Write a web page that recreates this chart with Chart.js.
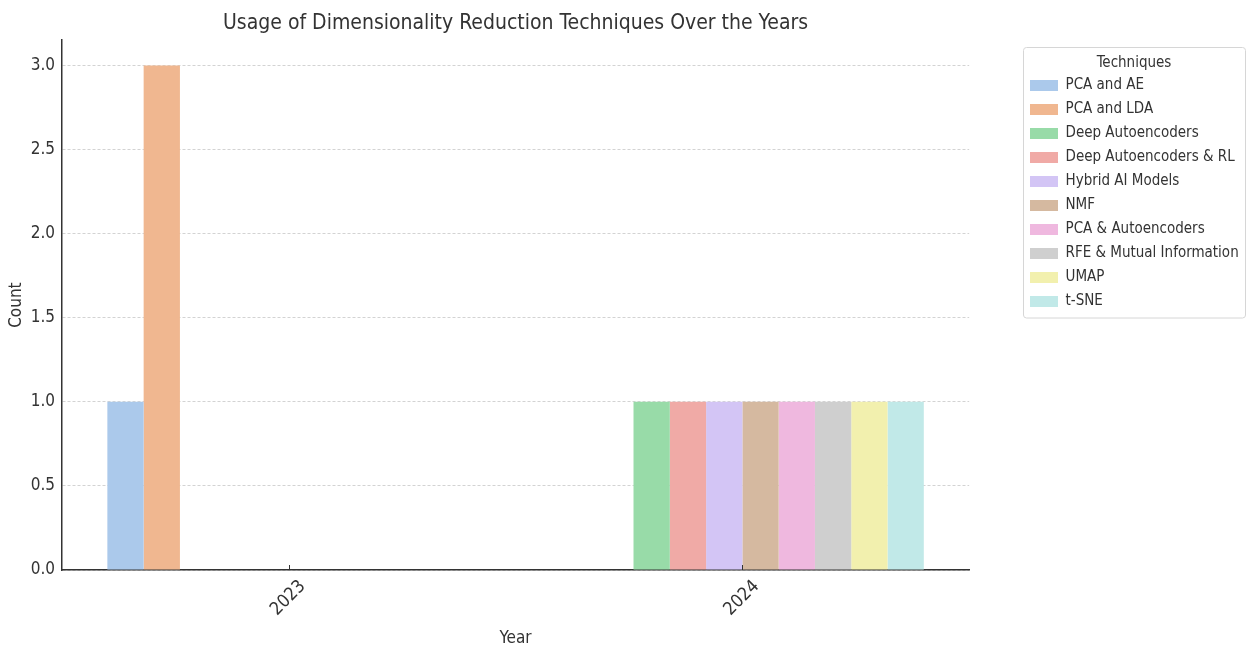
<!DOCTYPE html>
<html>
<head>
<meta charset="utf-8">
<script src="https://cdn.jsdelivr.net/npm/chart.js@4.4.0/dist/chart.umd.min.js"></script>
<style>
  html, body { margin: 0; padding: 0; background: #fff; }
</style>
</head>
<body>
<canvas id="chart" width="1247" height="648"></canvas>
<script>
// Dane wykresu
const years = ["2023", "2024"]
const techniques = [
  "PCA and AE",
  "PCA and LDA",
  "Deep Autoencoders",
  "Deep Autoencoders & RL",
  "Hybrid AI Models",
  "NMF",
  "PCA & Autoencoders",
  "RFE & Mutual Information",
  "UMAP",
  "t-SNE",
]
// liczba wystąpień dla kolejnych lat (2023, 2024)
const pcaAe = [1, 0]
const pcaLda = [3, 0]
const deepAe = [0, 1]
const deepAeRl = [0, 1]
const hybridAi = [0, 1]
const nmf = [0, 1]
const pcaAutoenc = [0, 1]
const rfeMi = [0, 1]
const umap = [0, 1]
const tsne = [0, 1]
const yTicks = [0, 0.5, 1, 1.5, 2, 2.5, 3]

const seriesValues = [pcaAe, pcaLda, deepAe, deepAeRl, hybridAi, nmf, pcaAutoenc, rfeMi, umap, tsne]
const colors = [
  "#abc9eb", "#f0b790", "#98dba8", "#f0aaa6", "#d3c5f5",
  "#d5b9a0", "#efb8df", "#cfcfcf", "#f2f0ae", "#c1e9e8",
]

const FONT = "'DejaVu Sans Condensed', 'DejaVu Sans', sans-serif"
const TEXT = "#333333"

const datasets = techniques.map((name, i) => ({
  label: name,
  data: seriesValues[i],
  backgroundColor: colors[i],
  borderWidth: 0,
  categoryPercentage: 0.8,
  barPercentage: 1.0,
}))

// przesunięcie legendy, ramka legendy i znaczniki osi X skierowane do środka
const extras = {
  id: "extras",
  afterLayout(chart) {
    const lg = chart.legend
    lg.left = 1021
    lg.right = chart.width
    lg.width = lg.right - lg.left
  },
  afterDraw(chart) {
    const ctx = chart.ctx
    const lg = chart.legend
    const boxes = lg.legendHitBoxes
    if (boxes && boxes.length) {
      const last = boxes[boxes.length - 1]
      const left = 1023
      const top = 47
      const right = chart.width - 1
      const bottom = last.top + last.height / 2 + 16
      ctx.save()
      ctx.strokeStyle = "#d6d6d6"
      ctx.lineWidth = 1
      ctx.beginPath()
      ctx.roundRect(left + 0.5, top + 0.5, right - left - 1, bottom - top, 3)
      ctx.stroke()
      ctx.restore()
    }
    const xs = chart.scales.x
    ctx.save()
    ctx.strokeStyle = TEXT
    ctx.lineWidth = 1
    xs.ticks.forEach((t, i) => {
      const px = Math.round(xs.getPixelForTick(i)) + 0.5
      ctx.beginPath()
      ctx.moveTo(px, xs.top)
      ctx.lineTo(px, xs.top - 5)
      ctx.stroke()
    })
    ctx.restore()
  },
}

const config = {
  type: "bar",
  data: { labels: years, datasets: datasets },
  plugins: [extras],
  options: {
    responsive: false,
    animation: false,
    layout: { padding: { left: 0, right: 0, top: 0, bottom: 0 } },
    plugins: {
      title: {
        display: true,
        text: "Usage of Dimensionality Reduction Techniques Over the Years",
        fullSize: false,
        color: TEXT,
        font: { family: FONT, size: 21, weight: "normal" },
        padding: { top: 11, bottom: 4 },
      },
      legend: {
        position: "right",
        align: "start",
        title: {
          display: true,
          text: "Techniques",
          color: TEXT,
          font: { family: FONT, size: 15 },
          padding: { top: 56, bottom: -5 },
        },
        labels: {
          boxWidth: 28,
          boxHeight: 11,
          padding: 9,
          color: TEXT,
          font: { family: FONT, size: 15 },
        },
      },
      tooltip: { enabled: false },
    },
    scales: {
      x: {
        offset: true,
        grid: { display: false },
        border: { display: true, color: TEXT, width: 1.5 },
        afterFit(scale) {
          scale.height = 78
        },
        ticks: {
          color: TEXT,
          font: { family: FONT, size: 18 },
          minRotation: 45,
          maxRotation: 45,
          labelOffset: 14,
          padding: -2,
        },
        title: {
          display: true,
          text: "Year",
          color: TEXT,
          font: { family: FONT, size: 17 },
          padding: { top: 0, bottom: -1 },
        },
      },
      y: {
        min: 0,
        max: 3.15,
        grid: { color: "#c8c8c8", lineWidth: 0.8, drawTicks: false },
        border: { display: true, color: TEXT, width: 1.5, dash: [3, 2] },
        afterBuildTicks(scale) {
          scale.ticks = yTicks.map((v) => ({ value: v }))
        },
        afterFit(scale) {
          scale.width = 62
        },
        ticks: {
          color: TEXT,
          font: { family: FONT, size: 17 },
          padding: 7,
          callback: (v) => Number(v).toFixed(1),
        },
        title: {
          display: true,
          text: "Count",
          color: TEXT,
          font: { family: FONT, size: 17 },
          padding: { top: 6, bottom: 0 },
        },
      },
      gap: {
        type: "linear",
        position: "right",
        display: true,
        grid: { display: false },
        border: { display: false },
        ticks: { display: false },
        afterFit(scale) {
          scale.width = 70
        },
      },
    },
  },
}

const chart = new Chart(document.getElementById("chart"), config)
</script>
</body>
</html>
